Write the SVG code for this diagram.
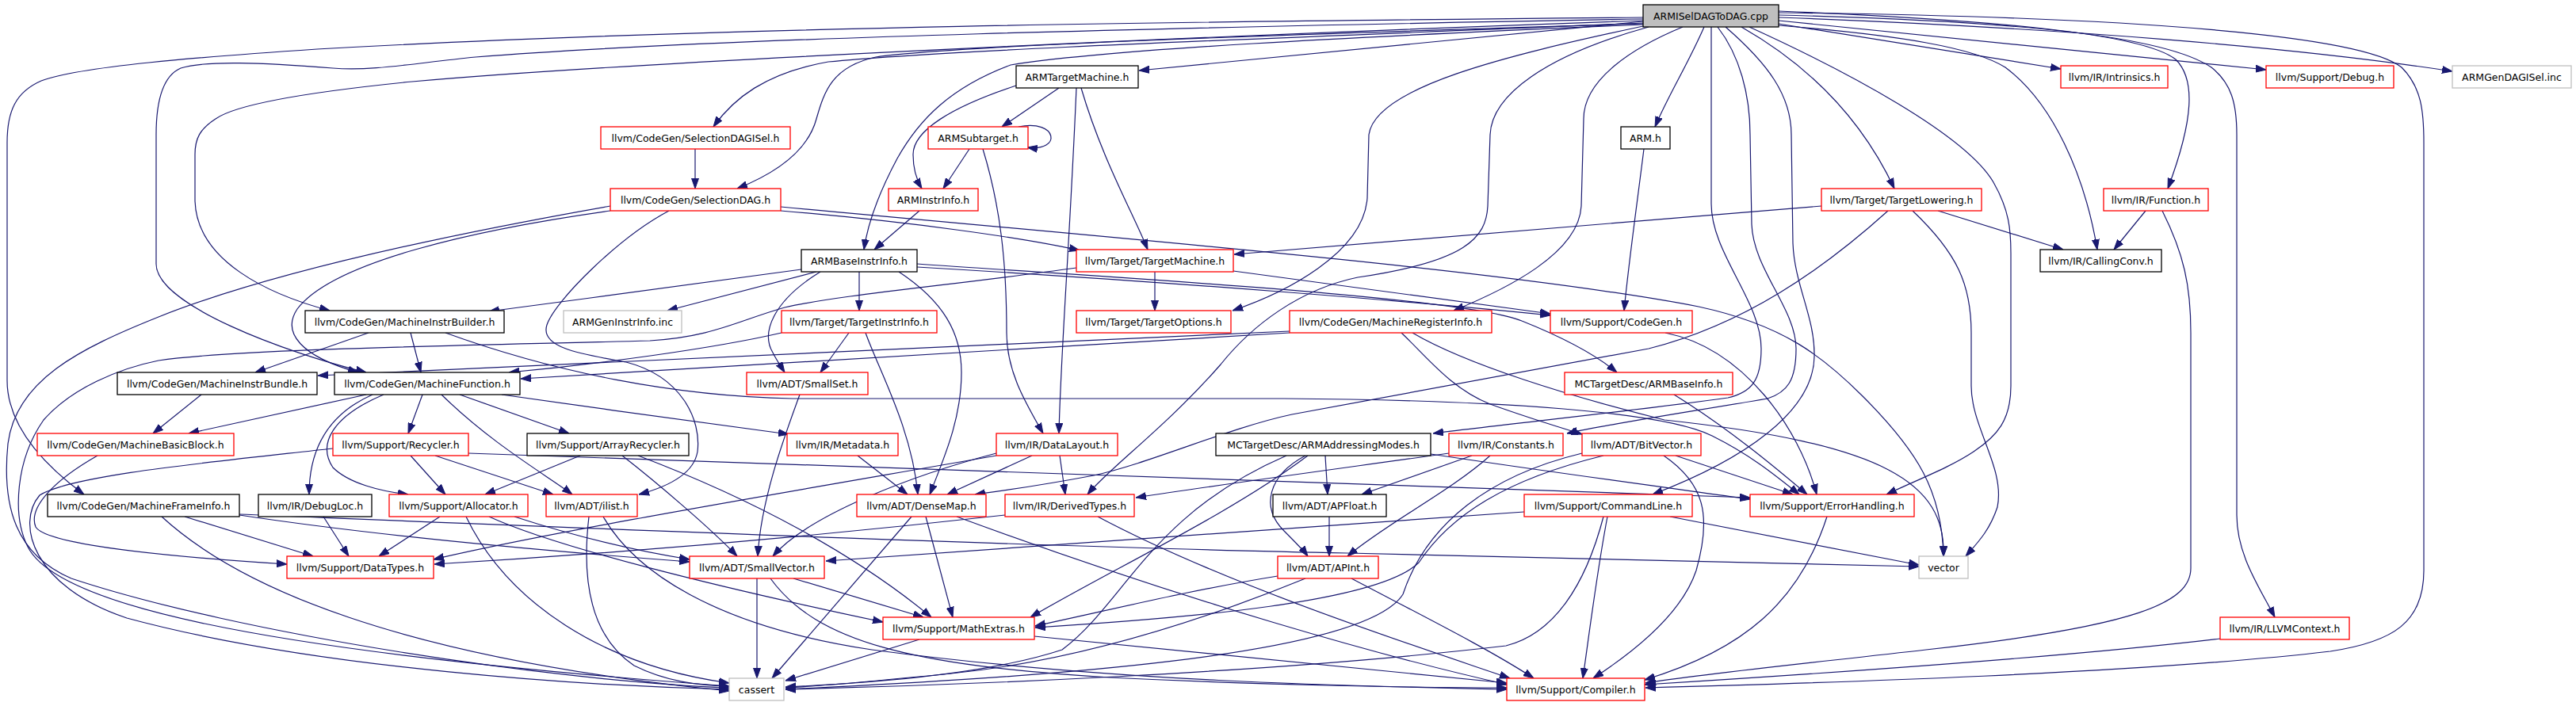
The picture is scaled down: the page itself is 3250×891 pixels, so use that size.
<svg xmlns="http://www.w3.org/2000/svg" width="3250" height="891" viewBox="0 0 3250 891">
<defs>
<style>
.node rect{fill:#ffffff;stroke-width:1.3}
.black rect{stroke:#000000}
.red rect{stroke:#ff0000}
.gray rect{stroke:#bfbfbf}
.root rect{fill:#bfbfbf;stroke:#000000}
.node text{font-family:"DejaVu Sans","Liberation Sans",sans-serif;font-size:12.5px;text-anchor:middle;fill:#000000}
.e{fill:none;stroke:#191970;stroke-width:1.2;marker-end:url(#arr)}
</style>
<marker id="arr" markerWidth="13" markerHeight="10" refX="13" refY="5" orient="auto" markerUnits="userSpaceOnUse"><path d="M0,0.5 L13,5 L0,9.5 z" fill="#191970" stroke="#191970" stroke-width="1"/></marker>
</defs>
<rect x="0" y="0" width="3250" height="891" fill="#ffffff"/>
<g id="edges">
<path class="e" d="M2073,27 L1437,89"/>
<path class="e" d="M2073,29 C1700,45 1200,62 1045,78 C965,92 925,125 900,160"/>
<path class="e" d="M2073,30 C1600,44 1200,58 1105,72 C1050,84 1040,115 1030,150 C1018,195 970,222 930,238"/>
<path class="e" d="M2073,31 C1700,47 1400,62 1275,82 C1200,110 1160,150 1132,200 C1108,245 1095,280 1090,315"/>
<path class="e" d="M2073,26 C1500,46 800,78 520,103 C400,115 300,130 272,150 C252,163 246,175 246,195 L246,253 C248,330 340,372 416,392"/>
<path class="e" d="M2073,24 C1500,34 900,48 600,72 C520,80 470,90 420,86 C330,79 260,76 228,86 C205,96 197,130 197,170 L197,333 C197,385 360,445 462,470"/>
<path class="e" d="M2073,22 C1500,27 900,34 400,62 C250,72 100,84 52,102 C20,116 9,140 9,180 L9,480 C9,540 60,590 106,624"/>
<path class="e" d="M2150,34 C2130,80 2105,120 2088,160"/>
<path class="e" d="M2123,34 C2060,60 1998,100 1998,150 L1995,260 C1992,320 1900,365 1834,392"/>
<path class="e" d="M2197,34 Q2330,110 2390,238"/>
<path class="e" d="M2244,14 C2500,25 2700,40 2745,75 C2770,100 2768,150 2735,238"/>
<path class="e" d="M2244,30 L2600,87"/>
<path class="e" d="M2244,26 L2859,88"/>
<path class="e" d="M2244,22 C2600,35 2900,60 3094,90"/>
<path class="e" d="M2244,19 C2550,27 2730,45 2790,85 C2815,105 2822,130 2822,170 L2822,650 C2822,700 2850,740 2870,779"/>
<path class="e" d="M2244,16 C2700,21 2980,45 3030,85 C3055,110 3058,140 3058,180 L3058,720 C3058,785 3020,810 2940,822 C2700,850 2300,862 2076,868"/>
<path class="e" d="M2207,34 C2330,90 2480,170 2515,230 C2535,265 2537,290 2537,320 L2537,487 C2537,530 2520,550 2490,570 C2460,590 2420,605 2380,624"/>
<path class="e" d="M2244,32 C2400,45 2490,60 2530,85 C2590,130 2630,220 2646,315"/>
<path class="e" d="M2159,34 L2159,257 C2159,320 2222,380 2222,440 C2222,480 2210,495 2180,502 C2050,520 1900,535 1808,547"/>
<path class="e" d="M2167,34 C2195,70 2208,120 2208,170 L2210,283 C2212,340 2266,390 2266,440 C2266,480 2255,495 2230,503 C2130,520 2030,535 1977,547"/>
<path class="e" d="M2177,34 C2230,80 2260,120 2260,170 L2262,307 C2264,360 2290,400 2289,450 C2288,520 2200,580 2085,624"/>
<path class="e" d="M2073,33 C1900,70 1735,110 1727,170 L1725,250 C1720,320 1620,370 1555,392"/>
<path class="e" d="M2080,34 C1950,70 1882,120 1880,170 L1877,260 C1875,300 1850,330 1713,350 C1640,365 1580,410 1540,460 C1470,540 1400,590 1372,624"/>
<path class="e" d="M1336,111 L1264,160"/>
<path class="e" d="M1282,108 C1200,135 1152,165 1152,195 C1152,215 1157,228 1163,238"/>
<path class="e" d="M1358,111 C1350,300 1338,450 1336,547"/>
<path class="e" d="M1364,111 C1390,200 1430,270 1448,315"/>
<path class="e" d="M1285,160 C1335,150 1340,192 1296,186"/>
<path class="e" d="M1223,188 L1190,238"/>
<path class="e" d="M1240,188 C1262,260 1270,330 1270,420 C1270,470 1295,510 1316,547"/>
<path class="e" d="M877,188 L877,238"/>
<path class="e" d="M985,266 C1150,280 1290,300 1362,316"/>
<path class="e" d="M985,261 C1400,300 1900,340 2143,387 C2250,410 2300,450 2350,500 C2420,570 2450,620 2452,702"/>
<path class="e" d="M844,266 C780,300 700,380 690,410 C680,440 740,448 790,457 C860,475 885,530 880,570 C875,600 840,615 806,624"/>
<path class="e" d="M770,266 C600,290 420,330 375,390 C355,420 380,450 452,470"/>
<path class="e" d="M770,260 C600,290 350,340 200,400 C100,440 20,480 10,560 C2,640 20,700 90,730 C300,800 700,860 920,868"/>
<path class="e" d="M1160,266 L1103,315"/>
<path class="e" d="M2298,260 L1557,321"/>
<path class="e" d="M2445,266 L2603,315"/>
<path class="e" d="M2413,266 C2470,320 2487,360 2487,420 L2487,487 C2487,540 2530,590 2520,640 C2510,670 2495,685 2480,702"/>
<path class="e" d="M2382,266 C2300,340 2200,410 2080,440 L1630,523 C1550,540 1450,585 1380,600 C1300,615 1260,620 1230,624"/>
<path class="e" d="M2707,266 L2667,315"/>
<path class="e" d="M2728,266 C2755,320 2764,360 2764,420 L2764,717 C2764,760 2700,790 2430,820 C2300,835 2150,850 2076,862"/>
<path class="e" d="M2074,188 C2065,260 2055,330 2049,392"/>
<path class="e" d="M1011,340 C900,356 750,375 617,393"/>
<path class="e" d="M1030,343 L842,392"/>
<path class="e" d="M1084,343 L1084,392"/>
<path class="e" d="M1035,343 C975,380 960,420 975,445 C980,455 985,462 990,470"/>
<path class="e" d="M1134,343 C1190,380 1213,420 1213,470 C1213,530 1190,580 1173,624"/>
<path class="e" d="M1157,333 C1400,350 1850,375 1920,405 C1970,425 2010,445 2040,470"/>
<path class="e" d="M1157,337 C1500,357 1800,382 1956,398"/>
<path class="e" d="M986,420 C900,440 750,460 642,470"/>
<path class="e" d="M1071,420 L1035,470"/>
<path class="e" d="M1092,420 C1110,470 1150,540 1158,624"/>
<path class="e" d="M1457,343 L1457,392"/>
<path class="e" d="M1556,342 L1956,396"/>
<path class="e" d="M1358,338 C1200,360 1060,372 990,388 C930,405 900,425 820,430 C600,436 300,440 200,455 C150,465 90,490 55,530 C20,580 15,650 35,690 C70,760 300,820 920,866"/>
<path class="e" d="M1627,418 L401,474"/>
<path class="e" d="M1627,420 L657,478"/>
<path class="e" d="M1768,420 C1800,450 1830,490 1880,510 C1930,528 1970,540 1996,548"/>
<path class="e" d="M1782,420 C1850,460 1980,500 2100,530 C2380,560 2455,610 2452,702"/>
<path class="e" d="M2101,420 C2200,440 2270,540 2292,624"/>
<path class="e" d="M465,420 L322,470"/>
<path class="e" d="M518,420 L531,470"/>
<path class="e" d="M562,420 C700,470 850,500 1000,503 L1620,503 C1900,505 2100,520 2160,550 C2210,575 2240,600 2270,624"/>
<path class="e" d="M254,498 L193,547"/>
<path class="e" d="M462,498 L238,547"/>
<path class="e" d="M533,498 L515,547"/>
<path class="e" d="M580,498 L718,547"/>
<path class="e" d="M470,498 C420,520 390,560 390,624"/>
<path class="e" d="M484,498 C420,525 400,560 420,590 C440,610 480,620 515,624"/>
<path class="e" d="M557,498 C620,560 690,600 722,624"/>
<path class="e" d="M633,498 C750,515 900,535 995,548"/>
<path class="e" d="M1009,498 C990,550 960,630 956,702"/>
<path class="e" d="M2112,498 C2180,540 2240,590 2280,624"/>
<path class="e" d="M123,575 C70,605 35,640 45,665 C60,690 250,705 362,712"/>
<path class="e" d="M518,575 L562,624"/>
<path class="e" d="M549,575 L698,624"/>
<path class="e" d="M420,566 C250,585 90,600 50,625 C20,660 40,740 160,780 C400,845 750,866 920,870"/>
<path class="e" d="M591,572 L2208,628"/>
<path class="e" d="M732,575 L612,624"/>
<path class="e" d="M785,575 C830,610 900,670 930,702"/>
<path class="e" d="M805,575 C950,630 1080,700 1175,779"/>
<path class="e" d="M1082,575 L1145,624"/>
<path class="e" d="M1302,575 L1195,624"/>
<path class="e" d="M1337,575 L1344,624"/>
<path class="e" d="M1257,572 C1150,600 1020,650 975,702"/>
<path class="e" d="M1257,575 C1000,620 700,670 547,706"/>
<path class="e" d="M1672,575 L1675,624"/>
<path class="e" d="M1647,575 C1600,600 1590,640 1620,670 C1635,685 1645,695 1650,702"/>
<path class="e" d="M1805,573 C1950,595 2100,615 2208,630"/>
<path class="e" d="M1650,575 C1550,650 1400,720 1300,779"/>
<path class="e" d="M1623,575 C1450,650 1420,760 1340,820 C1250,850 1100,862 991,867"/>
<path class="e" d="M1857,575 L1718,624"/>
<path class="e" d="M1880,575 C1830,620 1750,660 1700,702"/>
<path class="e" d="M1828,572 C1700,590 1550,610 1433,628"/>
<path class="e" d="M2114,575 L2262,624"/>
<path class="e" d="M2099,575 C2150,610 2160,650 2140,720 C2120,780 2050,830 2010,856"/>
<path class="e" d="M2023,575 C1900,605 1830,650 1790,710 C1740,760 1500,780 1306,792"/>
<path class="e" d="M1996,572 C1880,600 1800,660 1770,750 C1720,830 1300,855 991,870"/>
<path class="e" d="M233,652 L395,702"/>
<path class="e" d="M204,652 C300,740 500,830 920,872"/>
<path class="e" d="M302,650 C500,680 750,700 870,709"/>
<path class="e" d="M302,649 C700,665 1300,690 1700,698 C2000,705 2300,712 2421,715"/>
<path class="e" d="M408,652 L440,702"/>
<path class="e" d="M555,652 L478,702"/>
<path class="e" d="M588,652 C640,760 760,840 920,862"/>
<path class="e" d="M617,652 C700,690 900,740 1114,785"/>
<path class="e" d="M649,652 C720,675 800,695 870,706"/>
<path class="e" d="M743,652 C735,720 740,800 800,840 C840,860 880,865 920,866"/>
<path class="e" d="M761,652 C800,720 900,790 1100,820 C1400,860 1700,866 1901,870"/>
<path class="e" d="M1150,652 L974,856"/>
<path class="e" d="M1168,652 L1202,779"/>
<path class="e" d="M1207,652 C1500,760 1750,830 1902,864"/>
<path class="e" d="M1268,650 C1000,680 750,700 548,712"/>
<path class="e" d="M1385,652 C1550,740 1800,820 1905,856"/>
<path class="e" d="M1677,652 L1677,702"/>
<path class="e" d="M1923,646 C1600,670 1300,690 1042,708"/>
<path class="e" d="M2028,652 C2015,720 2005,800 1997,856"/>
<path class="e" d="M2023,652 C2000,740 1960,800 1900,815 C1600,850 1200,865 991,870"/>
<path class="e" d="M2107,652 L2421,713"/>
<path class="e" d="M2305,652 C2270,760 2200,820 2075,858"/>
<path class="e" d="M955,730 L955,856"/>
<path class="e" d="M1001,730 L1165,779"/>
<path class="e" d="M972,730 C1030,810 1150,840 1400,855 C1600,865 1800,868 1901,868"/>
<path class="e" d="M1612,727 C1500,745 1400,770 1306,790"/>
<path class="e" d="M1647,730 C1500,790 1350,835 1200,850 C1100,860 1030,866 991,868"/>
<path class="e" d="M1705,730 C1800,780 1880,820 1935,856"/>
<path class="e" d="M1160,807 L991,859"/>
<path class="e" d="M1305,803 L1901,862"/>
<path class="e" d="M2801,806 C2600,830 2300,850 2075,864"/>
</g>
<g id="n_root" class="node root"><rect x="2073" y="6" width="171" height="28"/><text x="2158.5" y="24.5">ARMISelDAGToDAG.cpp</text></g>
<g id="n_ARMTargetMachine" class="node black"><rect x="1282" y="83" width="154" height="28"/><text x="1359" y="101.5">ARMTargetMachine.h</text></g>
<g id="n_Intrinsics" class="node red"><rect x="2600" y="83" width="135" height="28"/><text x="2667.5" y="101.5">llvm/IR/Intrinsics.h</text></g>
<g id="n_Debug" class="node red"><rect x="2859" y="83" width="161" height="28"/><text x="2939.5" y="101.5">llvm/Support/Debug.h</text></g>
<g id="n_ARMGenDAGISel" class="node gray"><rect x="3094" y="83" width="150" height="28"/><text x="3169" y="101.5">ARMGenDAGISel.inc</text></g>
<g id="n_SelectionDAGISel" class="node red"><rect x="758" y="160" width="239" height="28"/><text x="877.5" y="178.5">llvm/CodeGen/SelectionDAGISel.h</text></g>
<g id="n_ARMSubtarget" class="node red"><rect x="1171" y="160" width="126" height="28"/><text x="1234" y="178.5">ARMSubtarget.h</text></g>
<g id="n_ARM" class="node black"><rect x="2045" y="160" width="62" height="28"/><text x="2076" y="178.5">ARM.h</text></g>
<g id="n_SelectionDAG" class="node red"><rect x="770" y="238" width="215" height="28"/><text x="877.5" y="256.5">llvm/CodeGen/SelectionDAG.h</text></g>
<g id="n_ARMInstrInfo" class="node red"><rect x="1121" y="238" width="113" height="28"/><text x="1177.5" y="256.5">ARMInstrInfo.h</text></g>
<g id="n_TargetLowering" class="node red"><rect x="2298" y="238" width="202" height="28"/><text x="2399" y="256.5">llvm/Target/TargetLowering.h</text></g>
<g id="n_Function" class="node red"><rect x="2654" y="238" width="132" height="28"/><text x="2720" y="256.5">llvm/IR/Function.h</text></g>
<g id="n_ARMBaseInstrInfo" class="node black"><rect x="1011" y="315" width="146" height="28"/><text x="1084" y="333.5">ARMBaseInstrInfo.h</text></g>
<g id="n_TargetMachine" class="node red"><rect x="1358" y="315" width="198" height="28"/><text x="1457" y="333.5">llvm/Target/TargetMachine.h</text></g>
<g id="n_CallingConv" class="node black"><rect x="2574" y="315" width="153" height="28"/><text x="2650.5" y="333.5">llvm/IR/CallingConv.h</text></g>
<g id="n_MachineInstrBuilder" class="node black"><rect x="385" y="392" width="251" height="28"/><text x="510.5" y="410.5">llvm/CodeGen/MachineInstrBuilder.h</text></g>
<g id="n_ARMGenInstrInfo" class="node gray"><rect x="711" y="392" width="149" height="28"/><text x="785.5" y="410.5">ARMGenInstrInfo.inc</text></g>
<g id="n_TargetInstrInfo" class="node red"><rect x="986" y="392" width="196" height="28"/><text x="1084" y="410.5">llvm/Target/TargetInstrInfo.h</text></g>
<g id="n_TargetOptions" class="node red"><rect x="1358" y="392" width="195" height="28"/><text x="1455.5" y="410.5">llvm/Target/TargetOptions.h</text></g>
<g id="n_MachineRegisterInfo" class="node red"><rect x="1627" y="392" width="255" height="28"/><text x="1754.5" y="410.5">llvm/CodeGen/MachineRegisterInfo.h</text></g>
<g id="n_CodeGen" class="node red"><rect x="1956" y="392" width="179" height="28"/><text x="2045.5" y="410.5">llvm/Support/CodeGen.h</text></g>
<g id="n_MachineInstrBundle" class="node black"><rect x="148" y="470" width="252" height="28"/><text x="274" y="488.5">llvm/CodeGen/MachineInstrBundle.h</text></g>
<g id="n_MachineFunction" class="node black"><rect x="422" y="470" width="234" height="28"/><text x="539" y="488.5">llvm/CodeGen/MachineFunction.h</text></g>
<g id="n_SmallSet" class="node red"><rect x="942" y="470" width="153" height="28"/><text x="1018.5" y="488.5">llvm/ADT/SmallSet.h</text></g>
<g id="n_ARMBaseInfo" class="node red"><rect x="1974" y="470" width="212" height="28"/><text x="2080" y="488.5">MCTargetDesc/ARMBaseInfo.h</text></g>
<g id="n_MachineBasicBlock" class="node red"><rect x="47" y="547" width="248" height="28"/><text x="171" y="565.5">llvm/CodeGen/MachineBasicBlock.h</text></g>
<g id="n_Recycler" class="node red"><rect x="420" y="547" width="171" height="28"/><text x="505.5" y="565.5">llvm/Support/Recycler.h</text></g>
<g id="n_ArrayRecycler" class="node black"><rect x="665" y="547" width="204" height="28"/><text x="767" y="565.5">llvm/Support/ArrayRecycler.h</text></g>
<g id="n_Metadata" class="node red"><rect x="993" y="547" width="140" height="28"/><text x="1063" y="565.5">llvm/IR/Metadata.h</text></g>
<g id="n_DataLayout" class="node red"><rect x="1257" y="547" width="153" height="28"/><text x="1333.5" y="565.5">llvm/IR/DataLayout.h</text></g>
<g id="n_ARMAddressingModes" class="node black"><rect x="1534" y="547" width="271" height="28"/><text x="1669.5" y="565.5">MCTargetDesc/ARMAddressingModes.h</text></g>
<g id="n_Constants" class="node red"><rect x="1828" y="547" width="144" height="28"/><text x="1900" y="565.5">llvm/IR/Constants.h</text></g>
<g id="n_BitVector" class="node red"><rect x="1996" y="547" width="150" height="28"/><text x="2071" y="565.5">llvm/ADT/BitVector.h</text></g>
<g id="n_MachineFrameInfo" class="node black"><rect x="60" y="624" width="242" height="28"/><text x="181" y="642.5">llvm/CodeGen/MachineFrameInfo.h</text></g>
<g id="n_DebugLoc" class="node black"><rect x="326" y="624" width="143" height="28"/><text x="397.5" y="642.5">llvm/IR/DebugLoc.h</text></g>
<g id="n_Allocator" class="node red"><rect x="491" y="624" width="175" height="28"/><text x="578.5" y="642.5">llvm/Support/Allocator.h</text></g>
<g id="n_ilist" class="node red"><rect x="689" y="624" width="115" height="28"/><text x="746.5" y="642.5">llvm/ADT/ilist.h</text></g>
<g id="n_DenseMap" class="node red"><rect x="1081" y="624" width="163" height="28"/><text x="1162.5" y="642.5">llvm/ADT/DenseMap.h</text></g>
<g id="n_DerivedTypes" class="node red"><rect x="1268" y="624" width="163" height="28"/><text x="1349.5" y="642.5">llvm/IR/DerivedTypes.h</text></g>
<g id="n_APFloat" class="node black"><rect x="1606" y="624" width="143" height="28"/><text x="1677.5" y="642.5">llvm/ADT/APFloat.h</text></g>
<g id="n_CommandLine" class="node red"><rect x="1923" y="624" width="212" height="28"/><text x="2029" y="642.5">llvm/Support/CommandLine.h</text></g>
<g id="n_ErrorHandling" class="node red"><rect x="2208" y="624" width="207" height="28"/><text x="2311.5" y="642.5">llvm/Support/ErrorHandling.h</text></g>
<g id="n_DataTypes" class="node red"><rect x="362" y="702" width="185" height="28"/><text x="454.5" y="720.5">llvm/Support/DataTypes.h</text></g>
<g id="n_SmallVector" class="node red"><rect x="870" y="702" width="170" height="28"/><text x="955" y="720.5">llvm/ADT/SmallVector.h</text></g>
<g id="n_APInt" class="node red"><rect x="1612" y="702" width="127" height="28"/><text x="1675.5" y="720.5">llvm/ADT/APInt.h</text></g>
<g id="n_vector" class="node gray"><rect x="2421" y="702" width="62" height="28"/><text x="2452" y="720.5">vector</text></g>
<g id="n_MathExtras" class="node red"><rect x="1114" y="779" width="191" height="28"/><text x="1209.5" y="797.5">llvm/Support/MathExtras.h</text></g>
<g id="n_LLVMContext" class="node red"><rect x="2801" y="779" width="163" height="28"/><text x="2882.5" y="797.5">llvm/IR/LLVMContext.h</text></g>
<g id="n_cassert" class="node gray"><rect x="920" y="856" width="69" height="28"/><text x="954.5" y="874.5">cassert</text></g>
<g id="n_Compiler" class="node red"><rect x="1901" y="856" width="174" height="28"/><text x="1988" y="874.5">llvm/Support/Compiler.h</text></g>
</svg>
